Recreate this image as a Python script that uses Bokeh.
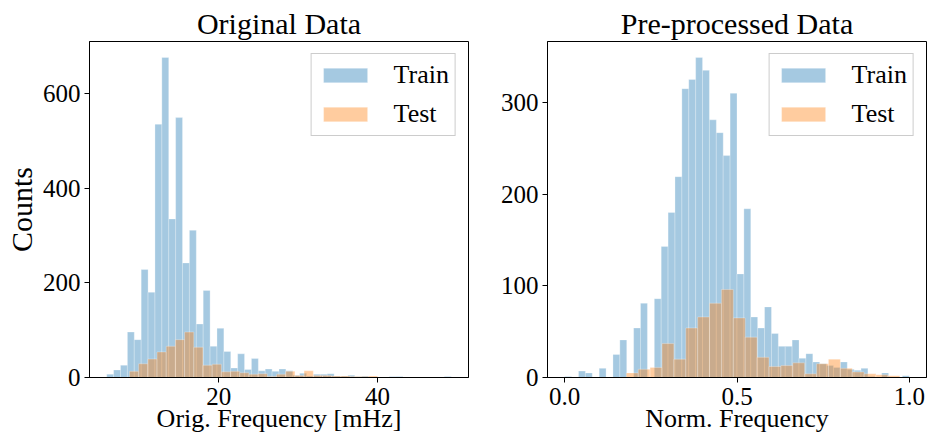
import numpy as np
from bokeh.plotting import figure
from bokeh.layouts import row
from bokeh.models import Range1d, FixedTicker, NumeralTickFormatter
from bokeh.embed import file_html
from bokeh.resources import INLINE

FONT = "Liberation Serif"

# ---- data (histogram bin ranges and counts) ----
orig_train_range = (5.91, 49.28)
orig_train_counts = [7, 16, 26, 96, 80, 228, 180, 535, 676, 335,
                     549, 242, 311, 113, 184, 66, 104, 55, 20, 50,
                     17, 40, 14, 18, 13, 18, 14, 5, 9, 3,
                     7, 7, 8, 3, 3, 5, 2, 3, 1, 1,
                     1, 2, 2, 1, 1, 0, 0, 0, 0, 2]
orig_test_range = (8.77, 46.95)
orig_test_counts = [13, 29, 39, 54, 66, 80, 96, 64, 26, 28, 12,
                    13, 10, 7, 8, 2, 7, 13, 4, 14, 4, 4, 3, 3,
                    2, 2, 3, 1, 1, 0, 0, 0, 1]

norm_train_range = (0.0, 1.0)
norm_train_counts = [1, 0, 7, 5, 0, 10, 0, 25, 41, 0,
                     54, 81, 0, 86, 143, 180, 219, 315, 325, 349,
                     335, 281, 267, 242, 310, 113, 184, 66, 54, 77,
                     48, 34, 34, 41, 21, 26, 17, 15, 13, 11,
                     17, 9, 8, 10, 1, 0, 5, 0, 0, 2]
norm_test_range = (0.1788, 0.9724)
norm_test_counts = [5, 9, 11, 37, 20, 54, 66, 81, 96, 65, 44, 22,
                    12, 13, 16, 4, 15, 20, 10, 6, 4, 3, 2]

orig_xticks = [20, 40]
orig_yticks = [0, 200, 400, 600]
norm_xticks = [0.0, 0.5, 1.0]
norm_yticks = [0, 100, 200, 300]

TRAIN_COLOR = "#1f77b4"
TEST_COLOR = "#ff7f0e"


def edges(rng, counts):
    e = np.linspace(rng[0], rng[1], len(counts) + 1)
    return e[:-1], e[1:]


def make(title, xlabel, ylabel, tr_rng, tr_c, te_rng, te_c, xticks, yticks,
         xfmt, width, bl, br):
    lo = min(tr_rng[0], te_rng[0])
    hi = max(tr_rng[1], te_rng[1])
    span = hi - lo
    ymax = max(max(tr_c), max(te_c)) * 1.05
    p = figure(width=width, height=437, output_backend="svg",
               toolbar_location=None,
               x_range=Range1d(lo - 0.05 * span, hi + 0.05 * span),
               y_range=Range1d(0, ymax),
               min_border_left=bl, min_border_right=br,
               min_border_top=41, min_border_bottom=60, title=title)
    p.title.text_font = FONT
    p.title.text_font_size = "30px"
    p.title.text_font_style = "normal"
    p.title.align = "center"
    p.title.standoff = 3
    p.title.text_color = "black"
    p.xgrid.visible = False
    p.ygrid.visible = False
    p.outline_line_color = "black"
    p.outline_line_alpha = 1.0
    p.outline_line_width = 1
    p.background_fill_color = "white"
    p.border_fill_color = "white"

    l, r = edges(tr_rng, tr_c)
    p.quad(left=l, right=r, bottom=0, top=tr_c, fill_color=TRAIN_COLOR,
           fill_alpha=0.4, line_color="white", line_alpha=0.35,
           line_width=0.8, legend_label="Train")
    l, r = edges(te_rng, te_c)
    p.quad(left=l, right=r, bottom=0, top=te_c, fill_color=TEST_COLOR,
           fill_alpha=0.4, line_color="white", line_alpha=0.35,
           line_width=0.8, legend_label="Test")

    for ax in (p.xaxis[0], p.yaxis[0]):
        ax.axis_line_color = "black"
        ax.major_tick_out = 5
        ax.major_tick_in = 0
        ax.minor_tick_out = 0
        ax.minor_tick_in = 0
        ax.major_tick_line_color = "black"
        ax.major_label_text_font = FONT
        ax.major_label_text_font_size = "25px"
        ax.major_label_text_color = "black"
        ax.major_label_standoff = 4
        ax.axis_label_text_font = FONT
        ax.axis_label_text_font_style = "normal"
        ax.axis_label_text_color = "black"
    p.xaxis[0].major_label_standoff = 5
    p.xaxis[0].axis_label_text_font_size = "26px"
    p.xaxis[0].axis_label_standoff = -4
    p.yaxis[0].axis_label_text_font_size = "30px"
    p.yaxis[0].axis_label_standoff = 2
    p.xaxis[0].ticker = FixedTicker(ticks=xticks)
    p.yaxis[0].ticker = FixedTicker(ticks=yticks)
    if xfmt:
        p.xaxis[0].formatter = NumeralTickFormatter(format=xfmt)
    p.xaxis[0].axis_label = xlabel
    if ylabel:
        p.yaxis[0].axis_label = ylabel

    lg = p.legend[0]
    lg.location = "top_right"
    lg.margin = 12
    lg.padding = 6
    lg.spacing = 9
    lg.glyph_width = 55
    lg.glyph_height = 18
    lg.label_height = 18
    lg.label_standoff = 21
    lg.label_text_font = FONT
    lg.label_text_font_size = "26px"
    lg.label_text_color = "black"
    lg.label_text_baseline = "middle"
    lg.border_line_color = "#cccccc"
    lg.border_line_alpha = 1.0
    lg.border_line_width = 1
    lg.background_fill_alpha = 0.8
    return p


p1 = make("Original Data", "Orig. Frequency [mHz]", "Counts",
          orig_train_range, orig_train_counts,
          orig_test_range, orig_test_counts,
          orig_xticks, orig_yticks, None, 477, 89, 9)
p2 = make("Pre-processed Data", "Norm. Frequency", None,
          norm_train_range, norm_train_counts,
          norm_test_range, norm_test_counts,
          norm_xticks, norm_yticks, "0.0", 457, 70, 8)

layout = row(p1, p2)
open("out.html", "w").write(file_html(layout, INLINE))
